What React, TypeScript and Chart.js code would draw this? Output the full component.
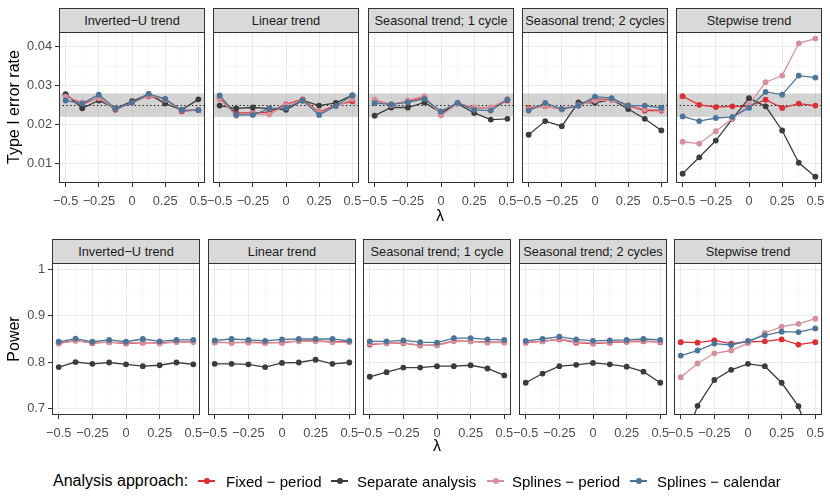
import React, { useEffect, useRef } from "react";
import { Chart, registerables } from "chart.js";

Chart.register(...registerables);

const FONT = '"Liberation Sans", Arial, Helvetica, sans-serif';

// ---------------- data ----------------
const LAMBDA = [-0.5, -0.375, -0.25, -0.125, 0, 0.125, 0.25, 0.375, 0.5];
const X_TICKS = [-0.5, -0.375, -0.25, -0.125, 0, 0.125, 0.25, 0.375, 0.5];
const TRENDS = [
  "Inverted\u2212U trend",
  "Linear trend",
  "Seasonal trend; 1 cycle",
  "Seasonal trend; 2 cycles",
  "Stepwise trend",
];
const SERIES = ["Fixed \u2212 period", "Separate analysis", "Splines \u2212 period", "Splines \u2212 calendar"];
const COLORS = ["#DD2D35", "#3C3C3C", "#D6909B", "#4C7699"];

const T1_TICKS = [0.01, 0.015, 0.02, 0.025, 0.03, 0.035, 0.04];
const POWER_TICKS = [0.7, 0.75, 0.8, 0.85, 0.9, 0.95, 1];
const T1_BAND = [0.022, 0.028];
const T1_NOMINAL = 0.025;

// Type I error rate: rows = trends, columns = lambda
const t1Fixed = [
  [0.0275, 0.0252, 0.027, 0.0238, 0.0258, 0.0273, 0.0265, 0.0234, 0.0238],
  [0.0268, 0.023, 0.023, 0.0232, 0.0252, 0.0265, 0.0232, 0.025, 0.026],
  [0.0262, 0.0252, 0.026, 0.027, 0.0226, 0.0255, 0.0243, 0.0243, 0.0262],
  [0.0243, 0.0247, 0.024, 0.0249, 0.0266, 0.0264, 0.0249, 0.0236, 0.0236],
  [0.0273, 0.0251, 0.0245, 0.0247, 0.0247, 0.0264, 0.0243, 0.0254, 0.0249],
];
const t1Separate = [
  [0.0278, 0.0242, 0.0262, 0.0242, 0.026, 0.0278, 0.0254, 0.0238, 0.0265],
  [0.0249, 0.0242, 0.0244, 0.0241, 0.0238, 0.0262, 0.0249, 0.0256, 0.0275],
  [0.0223, 0.0244, 0.0244, 0.0257, 0.023, 0.0254, 0.023, 0.0213, 0.0215],
  [0.0174, 0.0209, 0.0196, 0.0257, 0.0256, 0.0264, 0.024, 0.0215, 0.0185],
  [0.0074, 0.0116, 0.0159, 0.0215, 0.0268, 0.0247, 0.0185, 0.0102, 0.0066],
];
const t1SplinesPeriod = [
  [0.0272, 0.0257, 0.0268, 0.0241, 0.0256, 0.0275, 0.0264, 0.0236, 0.0237],
  [0.0265, 0.0223, 0.0228, 0.0226, 0.025, 0.0263, 0.023, 0.0247, 0.0265],
  [0.0265, 0.025, 0.0262, 0.0273, 0.0224, 0.0254, 0.0245, 0.0244, 0.0266],
  [0.024, 0.0248, 0.0238, 0.025, 0.0262, 0.0263, 0.025, 0.024, 0.0238],
  [0.0156, 0.0151, 0.0183, 0.0215, 0.0251, 0.0309, 0.0326, 0.0409, 0.0421],
];
const t1SplinesCalendar = [
  [0.0262, 0.0254, 0.0277, 0.0241, 0.0256, 0.0279, 0.0266, 0.0237, 0.0237],
  [0.0275, 0.0225, 0.0225, 0.0241, 0.0243, 0.0262, 0.0225, 0.0248, 0.0275],
  [0.0255, 0.0252, 0.0257, 0.0266, 0.0234, 0.0256, 0.0238, 0.0236, 0.0264],
  [0.0236, 0.0256, 0.024, 0.0249, 0.0272, 0.0268, 0.0249, 0.0249, 0.0243],
  [0.0221, 0.0209, 0.0217, 0.022, 0.0243, 0.0284, 0.0277, 0.0326, 0.0321],
];

// Power: rows = trends, columns = lambda
const powFixed = [
  [0.841, 0.847, 0.841, 0.843, 0.84, 0.842, 0.841, 0.844, 0.844],
  [0.843, 0.842, 0.843, 0.842, 0.842, 0.846, 0.846, 0.844, 0.844],
  [0.838, 0.841, 0.841, 0.836, 0.837, 0.846, 0.845, 0.843, 0.843],
  [0.842, 0.845, 0.849, 0.842, 0.84, 0.842, 0.844, 0.845, 0.843],
  [0.843, 0.842, 0.847, 0.84, 0.844, 0.845, 0.849, 0.838, 0.843],
];
const powSeparate = [
  [0.789, 0.8, 0.796, 0.799, 0.795, 0.791, 0.793, 0.799, 0.795],
  [0.796, 0.796, 0.795, 0.789, 0.798, 0.799, 0.805, 0.796, 0.799],
  [0.768, 0.778, 0.788, 0.788, 0.791, 0.791, 0.793, 0.786, 0.771],
  [0.755, 0.775, 0.791, 0.794, 0.798, 0.795, 0.79, 0.779, 0.755],
  [0.6, 0.705, 0.761, 0.783, 0.796, 0.791, 0.755, 0.704, 0.6],
];
const powSplinesPeriod = [
  [0.84, 0.846, 0.842, 0.843, 0.841, 0.843, 0.84, 0.844, 0.844],
  [0.842, 0.842, 0.842, 0.841, 0.843, 0.845, 0.845, 0.843, 0.843],
  [0.84, 0.84, 0.842, 0.836, 0.836, 0.845, 0.845, 0.842, 0.842],
  [0.843, 0.845, 0.85, 0.844, 0.841, 0.843, 0.845, 0.846, 0.844],
  [0.767, 0.797, 0.819, 0.825, 0.841, 0.863, 0.877, 0.883, 0.894],
];
const powSplinesCalendar = [
  [0.844, 0.851, 0.844, 0.848, 0.844, 0.85, 0.845, 0.848, 0.848],
  [0.847, 0.85, 0.848, 0.846, 0.849, 0.85, 0.85, 0.85, 0.846],
  [0.845, 0.845, 0.847, 0.843, 0.842, 0.852, 0.852, 0.849, 0.848],
  [0.846, 0.85, 0.855, 0.849, 0.846, 0.847, 0.848, 0.85, 0.848],
  [0.814, 0.825, 0.84, 0.837, 0.846, 0.858, 0.866, 0.865, 0.873],
];

// ---------------- layout ----------------
const ROWS = [
  { stripTop: 8, plotTop: 32, plotH: 151, left0: 59, step: 154.3, plotW: 146, yMin: 0.005, yMax: 0.0438 },
  { stripTop: 239, plotTop: 263, plotH: 152, left0: 52, step: 155.5, plotW: 148, yMin: 0.685, yMax: 1.015 },
];
const PAD_L = 50;
const PAD_R = 24;
const PAD_T = 4;
const PAD_B = 30;

const isMajorX = (v: number) => Math.abs(v * 4 - Math.round(v * 4)) < 1e-9;
const isMajorY = (metric: number, v: number) =>
  metric === 0 ? Math.abs(v * 100 - Math.round(v * 100)) < 1e-6 : Math.abs(v * 10 - Math.round(v * 10)) < 1e-6;
const fmtX = (v: number) => (Math.abs(v) < 1e-9 ? "0" : (v < 0 ? "\u2212" : "") + String(Math.abs(v)));
const fmtY = (metric: number, v: number) =>
  metric === 0 ? v.toFixed(2) : Math.abs(v - 1) < 1e-9 ? "1" : v.toFixed(1);

const zeroPadding = (s: any) => {
  s.paddingTop = 0;
  s.paddingBottom = 0;
  s.paddingLeft = 0;
  s.paddingRight = 0;
};

const bandPlugin = {
  id: "band",
  beforeDatasetsDraw(chart: any, _args: any, opts: any) {
    if (!opts || !opts.show) return;
    const { ctx, chartArea } = chart;
    const y = chart.scales.y;
    const yTop = y.getPixelForValue(T1_BAND[1]);
    const yBot = y.getPixelForValue(T1_BAND[0]);
    ctx.save();
    ctx.fillStyle = "rgba(150,150,150,0.42)";
    ctx.fillRect(chartArea.left, yTop, chartArea.right - chartArea.left, yBot - yTop);
    const yn = Math.round(y.getPixelForValue(T1_NOMINAL)) + 0.5;
    ctx.strokeStyle = "#000000";
    ctx.lineWidth = 1;
    ctx.setLineDash([1.2, 2.6]);
    ctx.beginPath();
    ctx.moveTo(chartArea.left, yn);
    ctx.lineTo(chartArea.right, yn);
    ctx.stroke();
    ctx.restore();
  },
};

const borderPlugin = {
  id: "panelBorder",
  afterDatasetsDraw(chart: any) {
    const { ctx, chartArea } = chart;
    ctx.save();
    ctx.strokeStyle = "#333333";
    ctx.lineWidth = 1;
    ctx.strokeRect(
      chartArea.left + 0.5,
      chartArea.top + 0.5,
      chartArea.right - chartArea.left - 1,
      chartArea.bottom - chartArea.top - 1
    );
    ctx.restore();
  },
};

function Panel({ metric, col }: { metric: number; col: number }) {
  const ref = useRef<HTMLCanvasElement>(null);
  const g = ROWS[metric];
  const left = Math.round(g.left0 + col * g.step);
  const cw = PAD_L + g.plotW + PAD_R;
  const ch = PAD_T + g.plotH + PAD_B;

  useEffect(() => {
    const canvas = ref.current;
    if (!canvas) return;
    const source =
      metric === 0
        ? [t1Fixed, t1Separate, t1SplinesPeriod, t1SplinesCalendar]
        : [powFixed, powSeparate, powSplinesPeriod, powSplinesCalendar];
    const datasets = SERIES.map((name, s) => ({
      label: name,
      data: LAMBDA.map((x, i) => ({ x, y: source[s][col][i] })),
      borderColor: COLORS[s],
      backgroundColor: COLORS[s],
      pointBackgroundColor: COLORS[s],
      pointBorderColor: COLORS[s],
      borderWidth: 1.3,
      pointRadius: 2.9,
      pointBorderWidth: 0,
      pointHoverRadius: 2.9,
      tension: 0,
      order: 4 - s,
    }));
    const yTicks = metric === 0 ? T1_TICKS : POWER_TICKS;
    const firstCol = col === 0;
    const chart = new Chart(canvas, {
      type: "line",
      data: { datasets },
      options: {
        animation: false,
        responsive: false,
        events: [],
        layout: { autoPadding: false, padding: { left: 0, right: PAD_R, top: PAD_T, bottom: 0 } },
        plugins: {
          legend: { display: false },
          tooltip: { enabled: false },
          band: { show: metric === 0 },
        } as any,
        scales: {
          x: {
            type: "linear",
            min: -0.55,
            max: 0.55,
            afterFit: (s: any) => {
              s.height = PAD_B;
              zeroPadding(s);
            },
            afterBuildTicks: (s: any) => {
              s.ticks = X_TICKS.map((v) => ({ value: v }));
            },
            ticks: {
              autoSkip: false,
              maxRotation: 0,
              minRotation: 0,
              padding: 7,
              color: "#4D4D4D",
              font: { family: FONT, size: 12.8 },
              callback: (v: any) => (isMajorX(Number(v)) ? fmtX(Number(v)) : ""),
            },
            grid: {
              color: (c: any) => (isMajorX(c.tick?.value ?? 0) ? "#EBEBEB" : "#F4F4F4"),
              lineWidth: (c: any) => (isMajorX(c.tick?.value ?? 0) ? 1 : 0.6),
              tickColor: (c: any) => (isMajorX(c.tick?.value ?? 0) ? "#333333" : "rgba(0,0,0,0)"),
              tickWidth: 1,
              tickLength: 4,
              drawTicks: true,
            },
            border: { display: false },
          },
          y: {
            type: "linear",
            min: g.yMin,
            max: g.yMax,
            afterFit: (s: any) => {
              s.width = PAD_L;
              zeroPadding(s);
            },
            afterBuildTicks: (s: any) => {
              s.ticks = yTicks.map((v) => ({ value: v }));
            },
            ticks: {
              display: firstCol,
              autoSkip: false,
              padding: 3,
              color: "#4D4D4D",
              font: { family: FONT, size: 12.8 },
              callback: (v: any) => (isMajorY(metric, Number(v)) ? fmtY(metric, Number(v)) : ""),
            },
            grid: {
              color: (c: any) => (isMajorY(metric, c.tick?.value ?? 0) ? "#EBEBEB" : "#F4F4F4"),
              lineWidth: (c: any) => (isMajorY(metric, c.tick?.value ?? 0) ? 1 : 0.6),
              tickColor: (c: any) => (isMajorY(metric, c.tick?.value ?? 0) ? "#333333" : "rgba(0,0,0,0)"),
              tickWidth: 1,
              tickLength: 4,
              drawTicks: firstCol,
            },
            border: { display: false },
          },
        },
      } as any,
      plugins: [bandPlugin, borderPlugin],
    });
    return () => chart.destroy();
  }, [metric, col]);

  return (
    <>
      <canvas
        ref={ref}
        width={cw}
        height={ch}
        style={{
          position: "absolute",
          left: left - PAD_L,
          top: g.plotTop - PAD_T,
          width: cw,
          height: ch,
        }}
      />
      <div
        style={{
          position: "absolute",
          left,
          top: g.stripTop,
          width: g.plotW,
          height: g.plotTop - g.stripTop + 1,
          boxSizing: "border-box",
          background: "#D9D9D9",
          border: "1px solid #333333",
          display: "flex",
          alignItems: "center",
          justifyContent: "center",
          fontFamily: FONT,
          fontSize: 12.8,
          color: "#1A1A1A",
          whiteSpace: "nowrap",
          overflow: "hidden",
        }}
      >
        {TRENDS[col]}
      </div>
    </>
  );
}

const centered = (x: number, y: number, extra: React.CSSProperties = {}): React.CSSProperties => ({
  position: "absolute",
  left: x,
  top: y,
  transform: "translate(-50%, -50%)",
  whiteSpace: "nowrap",
  lineHeight: 1,
  fontFamily: FONT,
  ...extra,
});

function LegendKey({ x, color }: { x: number; color: string }) {
  return (
    <div style={{ position: "absolute", left: x, top: 481, width: 17, height: 0 }}>
      <div style={{ position: "absolute", left: 0, top: -0.6, width: 17, height: 1.2, background: color }} />
      <div
        style={{
          position: "absolute",
          left: 8.5 - 3,
          top: -3,
          width: 6,
          height: 6,
          borderRadius: 3,
          background: color,
        }}
      />
    </div>
  );
}

const LEGEND_KEY_X = [198, 331, 487, 630];
const LEGEND_TEXT_X = [226, 357, 512, 657];

export default function App() {
  return (
    <div
      style={{
        position: "fixed",
        left: 0,
        top: 0,
        width: 830,
        height: 498,
        background: "#FFFFFF",
        overflow: "hidden",
      }}
    >
      {[0, 1].map((m) => [0, 1, 2, 3, 4].map((c) => <Panel key={`${m}-${c}`} metric={m} col={c} />))}
      <div style={centered(14, 107, { transform: "translate(-50%, -50%) rotate(-90deg)", fontSize: 16, color: "#000" })}>
        Type I error rate
      </div>
      <div style={centered(14, 339, { transform: "translate(-50%, -50%) rotate(-90deg)", fontSize: 16, color: "#000" })}>
        Power
      </div>
      <div style={centered(440, 215.5, { fontSize: 16, color: "#000" })}>λ</div>
      <div style={centered(437, 445.5, { fontSize: 16, color: "#000" })}>λ</div>
      <div
        style={{
          position: "absolute",
          left: 53,
          top: 481,
          transform: "translateY(-50%)",
          fontFamily: FONT,
          fontSize: 16,
          lineHeight: 1,
          whiteSpace: "nowrap",
          color: "#000",
        }}
      >
        Analysis approach:
      </div>
      {SERIES.map((s, i) => (
        <React.Fragment key={s}>
          <LegendKey x={LEGEND_KEY_X[i]} color={COLORS[i]} />
          <div
            style={{
              position: "absolute",
              left: LEGEND_TEXT_X[i],
              top: 481,
              transform: "translateY(-50%)",
              fontFamily: FONT,
              fontSize: 15,
              lineHeight: 1,
              whiteSpace: "nowrap",
              color: "#000",
            }}
          >
            {s}
          </div>
        </React.Fragment>
      ))}
    </div>
  );
}
